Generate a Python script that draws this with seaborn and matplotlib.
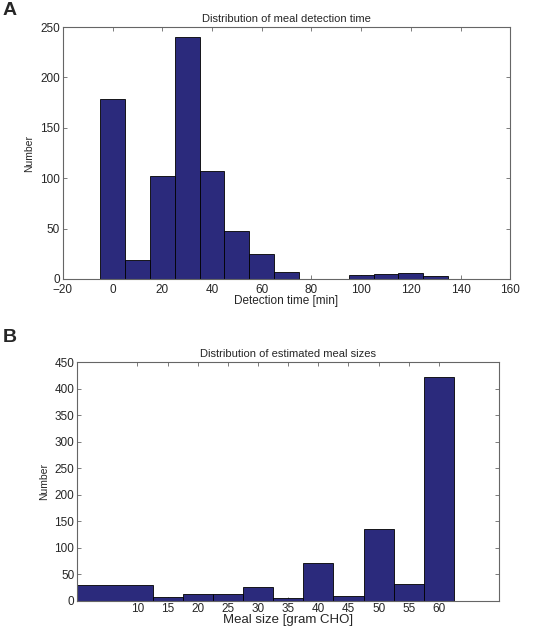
import numpy as np
import matplotlib
matplotlib.use("Agg")
import matplotlib.pyplot as plt
import seaborn as sns

# panel A: detection time histogram
det_centers = [0, 10, 20, 30, 40, 50, 60, 70, 80, 90, 100, 110, 120, 130]
det_counts = [179, 19, 102, 240, 107, 48, 25, 7, 0, 0, 4, 5, 6, 3]
det_edges = [-5, 5, 15, 25, 35, 45, 55, 65, 75, 85, 95, 105, 115, 125, 135]

# panel B: meal size histogram
size_centers = [6.25, 15, 20, 25, 30, 35, 40, 45, 50, 55, 60]
size_counts = [30, 7, 12, 13, 26, 5, 72, 9, 136, 31, 423]
size_edges = [0, 12.5, 17.5, 22.5, 27.5, 32.5, 37.5, 42.5, 47.5, 52.5, 57.5, 62.5]
size_ticks = [10, 15, 20, 25, 30, 35, 40, 45, 50, 55, 60]

sns.set_style("white")
plt.rcParams['font.family'] = ['Liberation Sans', 'DejaVu Sans']

bar_color = "#2B2A7C"
fig = plt.figure(figsize=(5.51, 6.31), dpi=100)

ax1 = fig.add_axes([0.114, 0.558, 0.812, 0.399])
sns.histplot(x=det_centers, weights=det_counts, bins=det_edges, ax=ax1,
             color=bar_color, alpha=1, edgecolor="black", linewidth=0.6)
ax1.set_xlim(-20, 160)
ax1.set_ylim(0, 250)
ax1.set_xticks(range(-20, 161, 20))
ax1.set_yticks(range(0, 251, 50))
ax1.set_title("Distribution of meal detection time", fontsize=8, pad=4)
ax1.set_xlabel("Detection time [min]", fontsize=8.5, labelpad=-1)
ax1.set_ylabel("Number", fontsize=7.5, labelpad=4)

ax2 = fig.add_axes([0.140, 0.048, 0.766, 0.378])
sns.histplot(x=size_centers, weights=size_counts, bins=size_edges, ax=ax2,
             color=bar_color, alpha=1, edgecolor="black", linewidth=0.6)
ax2.set_xlim(0, 70)
ax2.set_ylim(0, 450)
ax2.set_xticks(size_ticks)
ax2.set_yticks(range(0, 451, 50))
ax2.set_title("Distribution of estimated meal sizes", fontsize=8, pad=4)
ax2.set_xlabel("Meal size [gram CHO]", fontsize=9.5, labelpad=-1)
ax2.set_ylabel("Number", fontsize=7.5, labelpad=4)

for ax in (ax1, ax2):
    for sp in ax.spines.values():
        sp.set_visible(True)
        sp.set_color("#666666")
        sp.set_linewidth(0.8)
    ax.tick_params(direction="in", length=3, width=0.6, color="#666666",
                   top=True, right=True, bottom=True, left=True,
                   labelsize=8.5, pad=2)
ax1.tick_params(axis="x", pad=4)

fig.text(0.005, 0.997, "A", fontsize=14, fontweight="bold", va="top", ha="left")
fig.text(0.005, 0.478, "B", fontsize=14, fontweight="bold", va="top", ha="left")

fig.savefig("out.png", dpi=100)
